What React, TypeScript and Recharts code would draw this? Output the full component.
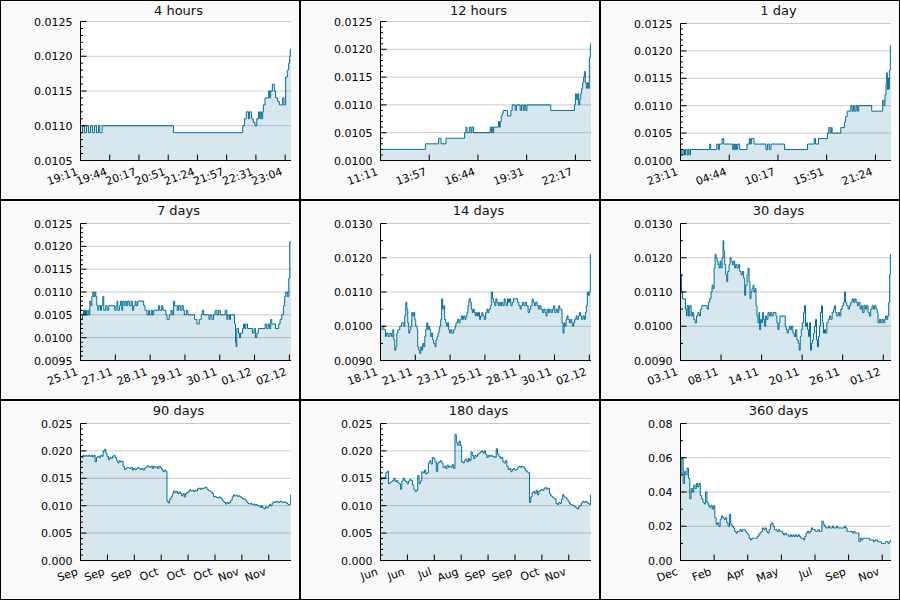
import React from 'react';
import { AreaChart, Area, XAxis, YAxis, CartesianGrid, ReferenceLine } from 'recharts';

const FONT = '"DejaVu Sans", Verdana, sans-serif';
type Pt = [number, number];

// ---------- data (time in natural units, value in price) ----------
const hours4: Pt[] = [
  [0, 0.0109], [2.3, 0.011], [4.5, 0.0109], [6.8, 0.011], [9.1, 0.0109], [11.4, 0.011], [13.6, 0.0109], [15.9, 0.011],
  [18.2, 0.0109], [20.5, 0.011], [22, 0.0109], [24.6, 0.011], [106, 0.0109], [185, 0.011], [187, 0.0111], [189, 0.0112],
  [191.5, 0.0111], [192.6, 0.0112], [194.9, 0.0111], [197, 0.01105], [199, 0.011], [201, 0.0111], [203, 0.0112],
  [204.3, 0.0111], [205.5, 0.0112], [206.6, 0.0111], [207.7, 0.0112], [208.5, 0.0113], [210.4, 0.0114], [214.6, 0.0115],
  [215.7, 0.0114], [216.8, 0.0115], [218.7, 0.0116], [221, 0.0115], [222.5, 0.0114], [224.8, 0.01135], [226.7, 0.0113],
  [230.5, 0.0114], [232, 0.0113], [233.9, 0.0117], [235.8, 0.0118], [237.3, 0.0119], [238.5, 0.012], [239.2, 0.0121], [240, 0.0121],
];
const hours4Ticks = [0, 33.33, 66.67, 100, 133.33, 166.67, 200, 233.33];
const hours4Labels = ['19:11', '19:44', '20:17', '20:51', '21:24', '21:57', '22:31', '23:04'];

const hours12: Pt[] = [
  [0, 0.0102], [153.5, 0.0103], [199, 0.0104], [207, 0.0103], [224, 0.0104], [287.8, 0.0105], [292.3, 0.0106], [295.7, 0.0105],
  [303.7, 0.0106], [309.4, 0.0105], [312.8, 0.0106], [318.5, 0.0105], [375.3, 0.0106], [378.8, 0.0105], [381, 0.0106],
  [384.4, 0.0105], [386.7, 0.0106], [403.8, 0.0107], [407.2, 0.0106], [409.5, 0.0107], [412.9, 0.0108], [416.3, 0.01085],
  [419.7, 0.0109], [434.5, 0.0108], [445.9, 0.0109], [450.4, 0.011], [460.6, 0.0109], [465, 0.011], [477.7, 0.0109],
  [482.3, 0.011], [488, 0.0109], [492, 0.011], [497, 0.0109], [501, 0.011], [582.3, 0.0109], [663.1, 0.011], [666.5, 0.0112],
  [670, 0.0111], [674.4, 0.0112], [677.8, 0.011], [681.3, 0.0111], [684.7, 0.0112], [688.1, 0.0113], [691.5, 0.0114],
  [695, 0.0115], [697.2, 0.0116], [700.6, 0.0114], [704, 0.0113], [707.5, 0.0114], [710.9, 0.0113], [714.3, 0.01186],
  [717.7, 0.0121], [720, 0.0121],
];
const hours12Ticks = [0, 166.67, 333.33, 500, 666.67];
const hours12Labels = ['11:11', '13:57', '16:44', '19:31', '22:17'];

const day1: Pt[] = [
  [0, 0.0102], [9.1, 0.0101], [18.2, 0.0102], [27.3, 0.0101], [34.1, 0.0102], [45.5, 0.0101], [52.3, 0.0102], [59.2, 0.0101],
  [68.3, 0.0102], [200.2, 0.0103], [207, 0.0102], [248, 0.0103], [259.4, 0.0102], [266.2, 0.0103], [284.4, 0.0104],
  [295.8, 0.0103], [357.2, 0.0102], [364, 0.0103], [370.8, 0.0102], [377.7, 0.0103], [382.2, 0.0102], [391.3, 0.0103],
  [405, 0.0102], [455, 0.0103], [471, 0.0104], [477.8, 0.0103], [484.6, 0.0104], [502.8, 0.0103], [584.7, 0.0102],
  [596, 0.0103], [607.4, 0.0102], [618.8, 0.0103], [712, 0.0102], [869, 0.0103], [914.6, 0.0104], [923.7, 0.0103],
  [944, 0.0104], [1005.6, 0.0105], [1014.7, 0.0106], [1023.8, 0.0105], [1030.6, 0.0106], [1037.4, 0.0105], [1096.6, 0.0106],
  [1121.6, 0.0107], [1128.4, 0.0108], [1139.8, 0.0109], [1164.8, 0.011], [1173.9, 0.0109], [1183, 0.011], [1192, 0.0109],
  [1201, 0.011], [1210, 0.0109], [1219.4, 0.011], [1308, 0.0109], [1383, 0.0111], [1392.3, 0.011], [1399, 0.0112],
  [1406, 0.0114], [1410.5, 0.0116], [1415, 0.0113], [1419.6, 0.0115], [1424, 0.0113], [1428.7, 0.01165], [1435.5, 0.0121],
  [1440, 0.0121],
];
const day1Ticks = [0, 333.33, 666.67, 1000, 1333.33];
const day1Labels = ['23:11', '04:44', '10:17', '15:51', '21:24'];

const days7: Pt[] = [
  [0, 0.0104], [1.6, 0.0105], [2.4, 0.0106], [3.2, 0.0105], [4, 0.0106], [4.8, 0.0105], [5.9, 0.0106], [6.7, 0.0105],
  [7.5, 0.0108], [8.3, 0.0107], [9.1, 0.0109], [9.9, 0.011], [10.7, 0.0109], [11.5, 0.011], [12.3, 0.0109], [13.1, 0.0107],
  [13.9, 0.0106], [14.7, 0.0107], [16.1, 0.0106], [16.9, 0.0107], [17.9, 0.0109], [18.7, 0.0106], [20.3, 0.0107],
  [21.4, 0.0106], [22.7, 0.0107], [27.6, 0.0106], [28.6, 0.0107], [29.4, 0.0108], [30, 0.0106], [31.3, 0.0107],
  [32.1, 0.0108], [33.2, 0.0106], [34, 0.0108], [35, 0.0107], [35.8, 0.0108], [36.9, 0.0107], [38, 0.0108], [39.3, 0.0107],
  [40.7, 0.0108], [41.7, 0.0106], [42.8, 0.0107], [43.9, 0.0108], [44.7, 0.0107], [46, 0.0108], [50.8, 0.0107],
  [51.9, 0.0106], [53.5, 0.0105], [54.8, 0.0106], [55.6, 0.0105], [57, 0.0106], [57.8, 0.0105], [58.9, 0.0106],
  [62.9, 0.0107], [63.7, 0.0106], [65.3, 0.0107], [66.3, 0.0106], [68.7, 0.0105], [69.6, 0.0104], [71.4, 0.0105],
  [72.8, 0.0106], [73.8, 0.0105], [74.9, 0.0108], [75.7, 0.0107], [77.8, 0.0106], [78.9, 0.0107], [80.3, 0.0106],
  [81.6, 0.0107], [82.7, 0.0106], [83.5, 0.0105], [85.1, 0.0106], [86.4, 0.0105], [91.8, 0.0104], [93.6, 0.0103],
  [95.5, 0.0104], [97.1, 0.0105], [97.9, 0.0106], [99, 0.0105], [103.3, 0.0104], [104.3, 0.0105], [105.7, 0.0104],
  [107, 0.0105], [108.3, 0.0106], [109.7, 0.0105], [111, 0.0106], [112.4, 0.0105], [116.4, 0.0106], [117.7, 0.0104],
  [118.5, 0.0105], [119.8, 0.0104], [120.6, 0.0105], [123.9, 0.0103], [124.7, 0.0099], [125.2, 0.0098], [125.7, 0.0102],
  [127.1, 0.0101], [127.9, 0.01], [128.7, 0.0101], [130.3, 0.0102], [131.1, 0.0103], [131.9, 0.0102], [132.9, 0.0103],
  [134.3, 0.0102], [138.3, 0.0101], [139.6, 0.0102], [140.7, 0.01], [141.8, 0.0101], [143.1, 0.0102], [148.5, 0.0103],
  [149.8, 0.0102], [150.9, 0.0103], [151.9, 0.0102], [153, 0.0104], [153.8, 0.0103], [156.8, 0.0102], [159.4, 0.0103],
  [160.5, 0.0104], [161.8, 0.0105], [163.2, 0.0107], [164.2, 0.0109], [165, 0.011], [166.4, 0.0109], [167.5, 0.0113],
  [168.3, 0.0121], [169.3, 0.0121],
];
const days7Ticks = [0, 28, 56, 84, 112, 140, 168];
const days7Labels = ['25.11', '27.11', '28.11', '29.11', '30.11', '01.12', '02.12'];

const days14: Pt[] = [
  [0, 0.0099], [2.7, 0.01], [5.4, 0.0099], [8, 0.0097], [9.6, 0.0098], [12.3, 0.0097], [15, 0.0098], [17.7, 0.0097],
  [19.8, 0.0099], [21.4, 0.0096], [23, 0.0093], [24.6, 0.0094], [26.2, 0.0098], [27.8, 0.0099], [31, 0.01], [33.7, 0.0101],
  [37.5, 0.01], [39, 0.0103], [40.7, 0.0107], [42.3, 0.0105], [43.9, 0.0101], [45.5, 0.0098], [47.1, 0.0099], [48.7, 0.01],
  [50.3, 0.0104], [51.9, 0.0103], [53.5, 0.0104], [55.1, 0.0102], [56.7, 0.01], [58.9, 0.0099], [59.9, 0.0094],
  [61.5, 0.0093], [63.1, 0.0092], [64.7, 0.0094], [66.3, 0.0093], [67.9, 0.0095], [69.6, 0.0094], [71.2, 0.0097],
  [72.8, 0.0099], [74.4, 0.0101], [76, 0.0099], [77.6, 0.01], [79.2, 0.0099], [80.8, 0.0097], [82.4, 0.0098], [84, 0.0096],
  [85.6, 0.0095], [87.7, 0.0094], [89.3, 0.0096], [91, 0.0097], [92.6, 0.0098], [94.2, 0.0099], [95.2, 0.01],
  [96.8, 0.0102], [98.4, 0.0108], [100, 0.0105], [101.7, 0.0106], [103.3, 0.0102], [104.9, 0.0101], [106.5, 0.01],
  [108.1, 0.0101], [109.7, 0.0099], [111.3, 0.0098], [112.9, 0.0099], [115, 0.0098], [117.7, 0.0099], [119.8, 0.01],
  [121.4, 0.0101], [124.1, 0.0102], [126.3, 0.0101], [127.9, 0.0102], [130, 0.0103], [132.1, 0.0102], [133.8, 0.0103],
  [135.9, 0.0102], [137.5, 0.0103], [139.1, 0.0104], [140.7, 0.0106], [142.3, 0.0108], [144.5, 0.0107], [146.1, 0.0105],
  [147.7, 0.0104], [149.3, 0.0105], [150.9, 0.0104], [152.5, 0.0103], [154.1, 0.0104], [156.2, 0.0103], [157.8, 0.0104],
  [159.4, 0.0102], [161, 0.0103], [163.2, 0.0104], [164.8, 0.0103], [166.9, 0.0102], [169.1, 0.0104], [171.2, 0.0105],
  [172.8, 0.0104], [174.4, 0.0105], [176.6, 0.0106], [178.2, 0.011], [180.3, 0.0108], [181.9, 0.0107], [184, 0.0106],
  [185.6, 0.0108], [187.3, 0.0107], [189.4, 0.0106], [191, 0.0107], [192.6, 0.0106], [194.7, 0.0107], [196.9, 0.0106],
  [199, 0.0108], [200.6, 0.0107], [202.2, 0.0106], [204.4, 0.0108], [206, 0.0107], [207.6, 0.0108], [209.7, 0.0106],
  [211.9, 0.0107], [214, 0.0108], [220.4, 0.0107], [222.6, 0.0106], [224.7, 0.0105], [226.3, 0.0106], [228.4, 0.0107],
  [230.6, 0.0106], [232.7, 0.0107], [234.9, 0.0106], [237.5, 0.0104], [239.7, 0.0105], [241.8, 0.0106], [244, 0.0108],
  [245.6, 0.0107], [247.7, 0.0106], [249.8, 0.0107], [252, 0.0106], [254.1, 0.0105], [256.3, 0.0106], [258.4, 0.0105],
  [260.5, 0.0104], [262.7, 0.0105], [264.8, 0.0104], [266.4, 0.0103], [268, 0.0105], [270.2, 0.0104], [272.3, 0.0105],
  [274.5, 0.0104], [276.6, 0.0105], [278.7, 0.0106], [280.3, 0.0104], [282.5, 0.0105], [284.6, 0.0104], [286.8, 0.0106],
  [288.4, 0.0105], [292.1, 0.0101], [293.7, 0.0098], [295.3, 0.0101], [296.9, 0.01], [298.5, 0.0102], [300.1, 0.0103],
  [301.7, 0.0102], [303.9, 0.0101], [306, 0.0102], [307.6, 0.0101], [309.2, 0.01], [310.8, 0.0101], [312.4, 0.0102],
  [314.6, 0.0103], [316.2, 0.0102], [318.3, 0.0103], [319.9, 0.0104], [322.1, 0.0103], [323.7, 0.0102], [325.8, 0.0103],
  [328, 0.0102], [329.6, 0.0104], [331.2, 0.0106], [332.8, 0.011], [334.4, 0.0109], [336, 0.011], [337.6, 0.0121],
  [338.7, 0.0121],
];
const days14Ticks = [0, 56, 112, 168, 224, 280, 336];
const days14Labels = ['18.11', '21.11', '23.11', '25.11', '28.11', '30.11', '02.12'];

const days30: Pt[] = [
  [0, 0.0115], [3.4, 0.011], [6.8, 0.0108], [17.1, 0.0105], [20.5, 0.0103], [22.7, 0.0106], [27.3, 0.0103], [31.8, 0.0106],
  [36.4, 0.0103], [40.9, 0.0104], [45.5, 0.0102], [50, 0.0101], [54.6, 0.0103], [59.1, 0.0104], [63.7, 0.0103],
  [68.2, 0.0105], [72.8, 0.0106], [91, 0.0105], [95.5, 0.0107], [100, 0.0108], [104.6, 0.011], [108, 0.0112],
  [111.5, 0.0111], [114.9, 0.0117], [118.3, 0.0121], [121.7, 0.012], [125.1, 0.0119], [128.5, 0.0118], [131.9, 0.0117],
  [135.4, 0.0119], [138.8, 0.0117], [142.2, 0.012], [145.6, 0.0125], [147.9, 0.0122], [151.3, 0.0118], [154.7, 0.0115],
  [158.1, 0.0113], [161.5, 0.0116], [166, 0.0118], [169.5, 0.012], [172.9, 0.0119], [177.4, 0.0118], [182, 0.0119],
  [185.4, 0.0117], [188.8, 0.0118], [193.4, 0.0117], [197.9, 0.0118], [202.5, 0.0116], [207, 0.0115], [211.6, 0.0116],
  [216.1, 0.0114], [219.5, 0.0109], [222.9, 0.0112], [227.5, 0.0115], [230.9, 0.0117], [234.3, 0.0113], [237.7, 0.0108],
  [241.1, 0.011], [244.5, 0.0111], [248, 0.0112], [251.4, 0.011], [254.8, 0.0111], [258.2, 0.0106], [261.6, 0.0103],
  [265, 0.0101], [268.4, 0.0104], [270.7, 0.0099], [274.1, 0.0102], [277.5, 0.0101], [280.9, 0.0104], [284.4, 0.0102],
  [287.8, 0.01], [291.2, 0.0103], [294.6, 0.0102], [299.1, 0.0104], [303.7, 0.0103], [308.2, 0.0104], [312.8, 0.0103],
  [317.3, 0.0104], [326.4, 0.0103], [329.8, 0.0101], [333.3, 0.0099], [336.7, 0.0101], [340.1, 0.0103], [358.3, 0.01],
  [361.7, 0.0099], [365.1, 0.0098], [368.5, 0.0099], [371.9, 0.01], [375.3, 0.0099], [379.9, 0.01], [384.4, 0.0098],
  [389, 0.0097], [393.5, 0.0099], [398.1, 0.0096], [402.6, 0.0095], [406, 0.0093], [409.5, 0.0097], [412.9, 0.0099],
  [416.3, 0.0101], [420.8, 0.0104], [424.3, 0.0106], [427.7, 0.01], [431.1, 0.0101], [434.5, 0.0099], [437.9, 0.0097],
  [441.3, 0.0101], [444.7, 0.0093], [448.1, 0.0095], [451.5, 0.0096], [455, 0.0098], [458.4, 0.01], [461.8, 0.0102],
  [465.2, 0.0096], [468.6, 0.0094], [472, 0.0097], [475.4, 0.01], [478.8, 0.0104], [482.3, 0.0106], [485.7, 0.0101],
  [489.1, 0.0098], [492.5, 0.0099], [495.9, 0.0098], [500.5, 0.0101], [505, 0.0102], [509.6, 0.0103], [514.1, 0.0102],
  [518.7, 0.0104], [523.2, 0.0105], [526.6, 0.0106], [530, 0.0104], [534.6, 0.0103], [539.1, 0.0104], [543.7, 0.0103],
  [548.2, 0.0105], [552.8, 0.0106], [557.3, 0.0107], [560.7, 0.011], [564.2, 0.0107], [568.7, 0.0106], [573.3, 0.0105],
  [577.8, 0.0106], [582.3, 0.0107], [586.9, 0.0108], [591.4, 0.0107], [596, 0.0108], [600.5, 0.0107], [605.1, 0.0106],
  [609.6, 0.0107], [614.2, 0.0105], [618.7, 0.0106], [623.3, 0.0104], [627.8, 0.0106], [632.4, 0.0105], [636.9, 0.0106],
  [641.5, 0.0104], [646, 0.0103], [650.6, 0.0105], [655.1, 0.0106], [659.7, 0.0105], [664.2, 0.0106], [668.8, 0.0105],
  [673.3, 0.0104], [675.6, 0.0101], [680.2, 0.0102], [684.7, 0.0101], [689.3, 0.0102], [693.8, 0.0101], [698.4, 0.0102],
  [701.8, 0.0103], [705.2, 0.0102], [708.6, 0.0103], [712, 0.0107], [715.4, 0.0115], [717.7, 0.0121], [720, 0.0121],
];
const days30Ticks = [0, 138.7, 277.4, 416.1, 554.8, 693.5];
const days30Labels = ['03.11', '08.11', '14.11', '20.11', '26.11', '01.12'];

const days90Values = [
  0.019, 0.0188, 0.0192, 0.019, 0.0192, 0.019, 0.0192, 0.019, 0.0192, 0.0189, 0.0192, 0.018, 0.0188, 0.019, 0.0188, 0.0192,
  0.019, 0.02, 0.0203, 0.0196, 0.019, 0.0184, 0.0188, 0.0186, 0.019, 0.0192, 0.0188, 0.0183, 0.0178, 0.0182, 0.018, 0.0181,
  0.0172, 0.0166, 0.0168, 0.017, 0.0169, 0.0168, 0.017, 0.0165, 0.0168, 0.0166, 0.0168, 0.017, 0.0168, 0.0166, 0.0168,
  0.0165, 0.0168, 0.017, 0.0173, 0.0172, 0.017, 0.0172, 0.0168, 0.0172, 0.017, 0.0171, 0.0168, 0.0172, 0.017, 0.0166,
  0.0162, 0.0165, 0.0163, 0.0108, 0.0105, 0.0112, 0.0116, 0.0122, 0.0127, 0.0124, 0.0126, 0.0122, 0.0125, 0.0122, 0.0118,
  0.0122, 0.0116, 0.0122, 0.0124, 0.0126, 0.0129, 0.0127, 0.0128, 0.0126, 0.0128, 0.0127, 0.0131, 0.0132, 0.013, 0.0132,
  0.0131, 0.0133, 0.0134, 0.013, 0.0128, 0.0127, 0.0125, 0.0122, 0.0116, 0.0117, 0.0115, 0.0114, 0.0116, 0.0114, 0.0112,
  0.0108, 0.0106, 0.0103, 0.0106, 0.0104, 0.0106, 0.011, 0.0116, 0.012, 0.0118, 0.0119, 0.0117, 0.0118, 0.0116, 0.0114,
  0.0112, 0.0112, 0.011, 0.0106, 0.0104, 0.0103, 0.0104, 0.0102, 0.0103, 0.0101, 0.0102, 0.01, 0.01, 0.0097, 0.01, 0.0096,
  0.0094, 0.0098, 0.0096, 0.0099, 0.0102, 0.01, 0.0105, 0.0107, 0.0106, 0.0108, 0.0107, 0.0106, 0.0108, 0.0107, 0.0106,
  0.0107, 0.0106, 0.0104, 0.0102, 0.0102, 0.012,
];
const days90Ticks = [0, 11.5, 23, 34.5, 46, 57.5, 69, 80.5];
const days90Labels = ['Sep', 'Sep', 'Sep', 'Oct', 'Oct', 'Oct', 'Nov', 'Nov'];

const days180Values = [
  0.0148, 0.0152, 0.015, 0.0152, 0.016, 0.0163, 0.014, 0.0142, 0.0144, 0.0146, 0.015, 0.0144, 0.0146, 0.0142, 0.014, 0.013,
  0.0145, 0.015, 0.0146, 0.0144, 0.014, 0.0145, 0.0148, 0.0146, 0.0138, 0.013, 0.0126, 0.0128, 0.0155, 0.014, 0.0145,
  0.0162, 0.016, 0.0165, 0.0158, 0.016, 0.0178, 0.0182, 0.0176, 0.0188, 0.0186, 0.018, 0.0162, 0.0178, 0.018, 0.0182,
  0.0178, 0.017, 0.0172, 0.0168, 0.0174, 0.017, 0.0172, 0.017, 0.0175, 0.0168, 0.023, 0.0215, 0.021, 0.0218, 0.021, 0.018,
  0.0178, 0.0182, 0.0185, 0.018, 0.0186, 0.0182, 0.0198, 0.0192, 0.0186, 0.0192, 0.019, 0.0194, 0.0196, 0.0198, 0.02,
  0.0196, 0.02, 0.0194, 0.0188, 0.0192, 0.019, 0.0192, 0.0189, 0.019, 0.0188, 0.0204, 0.0194, 0.019, 0.0186, 0.0188,
  0.018, 0.0178, 0.0182, 0.0172, 0.0166, 0.0168, 0.0162, 0.0166, 0.0168, 0.0165, 0.0166, 0.017, 0.0172, 0.017, 0.0172,
  0.0171, 0.0168, 0.0164, 0.0162, 0.016, 0.0106, 0.0116, 0.0124, 0.0126, 0.0122, 0.0128, 0.012, 0.0126, 0.0128, 0.013,
  0.0128, 0.0132, 0.0133, 0.013, 0.0132, 0.0122, 0.0118, 0.0116, 0.0114, 0.0112, 0.0104, 0.0102, 0.0106, 0.0104, 0.0112,
  0.012, 0.0116, 0.0115, 0.0112, 0.0108, 0.0104, 0.0102, 0.0101, 0.01, 0.0098, 0.0096, 0.0094, 0.0098, 0.01, 0.0105,
  0.0108, 0.0106, 0.0108, 0.0106, 0.0104, 0.0102, 0.012,
];
const days180Ticks = [0, 23, 46, 69, 92, 115, 138, 161];
const days180Labels = ['Jun', 'Jun', 'Jul', 'Aug', 'Sep', 'Sep', 'Oct', 'Nov'];

const days360Values = [
  0.05, 0.06, 0.045, 0.052, 0.05, 0.054, 0.048, 0.036, 0.042, 0.04, 0.044, 0.042, 0.045, 0.043, 0.045, 0.038, 0.036, 0.034,
  0.033, 0.04, 0.034, 0.032, 0.031, 0.032, 0.03, 0.032, 0.025, 0.021, 0.022, 0.02, 0.024, 0.026, 0.025, 0.024, 0.025,
  0.022, 0.02, 0.027, 0.021, 0.02, 0.019, 0.017, 0.016, 0.017, 0.017, 0.018, 0.017, 0.018, 0.018, 0.017, 0.016, 0.015,
  0.013, 0.012, 0.013, 0.013, 0.013, 0.013, 0.014, 0.015, 0.016, 0.017, 0.019, 0.018, 0.019, 0.017, 0.016, 0.018, 0.021,
  0.022, 0.02, 0.018, 0.018, 0.017, 0.018, 0.017, 0.017, 0.016, 0.015, 0.016, 0.015, 0.015, 0.014, 0.015, 0.014, 0.015,
  0.014, 0.015, 0.014, 0.015, 0.014, 0.013, 0.013, 0.012, 0.014, 0.016, 0.017, 0.016, 0.017, 0.019, 0.018, 0.018, 0.017,
  0.017, 0.018, 0.017, 0.017, 0.023, 0.021, 0.02, 0.019, 0.019, 0.02, 0.019, 0.019, 0.02, 0.019, 0.019, 0.02, 0.019,
  0.019, 0.019, 0.019, 0.019, 0.02, 0.019, 0.017, 0.017, 0.017, 0.017, 0.016, 0.017, 0.016, 0.016, 0.016, 0.011, 0.013,
  0.012, 0.013, 0.013, 0.013, 0.013, 0.013, 0.012, 0.012, 0.012, 0.011, 0.012, 0.012, 0.011, 0.011, 0.011, 0.01, 0.01,
  0.01, 0.011, 0.011, 0.01, 0.011, 0.012,
];
const days360Ticks = [0, 57.5, 115, 172.5, 230, 287.5, 345];
const days360Labels = ['Dec', 'Feb', 'Apr', 'May', 'Jul', 'Sep', 'Nov'];

// ---------- helpers ----------
function uniform(values: number[], end: number): Pt[] {
  const step = end / (values.length - 1);
  return values.map((v, i) => [i * step, v] as Pt);
}
function range(a: number, b: number, s: number): number[] {
  const n = Math.round((b - a) / s);
  const out: number[] = [];
  for (let i = 0; i <= n; i++) out.push(+(a + i * s).toFixed(6));
  return out;
}

interface Cfg {
  title: string;
  series: Pt[];
  xMax: number;
  xTicks: number[];
  xLabels: string[];
  yMin: number;
  yMax: number;
  yMajor: number;
  yMinor: number;
  digits: number;
  top: number;
}

const panels: Cfg[] = [
  { title: '4 hours', series: hours4, xMax: 240, xTicks: hours4Ticks, xLabels: hours4Labels, yMin: 0.0105, yMax: 0.0125, yMajor: 0.0005, yMinor: 0.0001, digits: 4, top: 20.5 },
  { title: '12 hours', series: hours12, xMax: 720, xTicks: hours12Ticks, xLabels: hours12Labels, yMin: 0.01, yMax: 0.0125, yMajor: 0.0005, yMinor: 0.0001, digits: 4, top: 20.5 },
  { title: '1 day', series: day1, xMax: 1440, xTicks: day1Ticks, xLabels: day1Labels, yMin: 0.01, yMax: 0.0125, yMajor: 0.0005, yMinor: 0.0001, digits: 4, top: 22.5 },
  { title: '7 days', series: days7, xMax: 169.3, xTicks: days7Ticks, xLabels: days7Labels, yMin: 0.0095, yMax: 0.0125, yMajor: 0.0005, yMinor: 0.0001, digits: 4, top: 22.5 },
  { title: '14 days', series: days14, xMax: 338.7, xTicks: days14Ticks, xLabels: days14Labels, yMin: 0.009, yMax: 0.013, yMajor: 0.001, yMinor: 0.0005, digits: 4, top: 22.5 },
  { title: '30 days', series: days30, xMax: 720, xTicks: days30Ticks, xLabels: days30Labels, yMin: 0.009, yMax: 0.013, yMajor: 0.001, yMinor: 0.0005, digits: 4, top: 22.5 },
  { title: '90 days', series: uniform(days90Values, 89.86), xMax: 90, xTicks: days90Ticks, xLabels: days90Labels, yMin: 0, yMax: 0.025, yMajor: 0.005, yMinor: 0.001, digits: 3, top: 22.5 },
  { title: '180 days', series: uniform(days180Values, 179.7), xMax: 180, xTicks: days180Ticks, xLabels: days180Labels, yMin: 0, yMax: 0.025, yMajor: 0.005, yMinor: 0.001, digits: 3, top: 22.5 },
  { title: '360 days', series: uniform(days360Values, 359.4), xMax: 360, xTicks: days360Ticks, xLabels: days360Labels, yMin: 0, yMax: 0.08, yMajor: 0.02, yMinor: 0.01, digits: 2, top: 22.5 },
];

const LINE = '#00709b';

function Panel({ cfg, left, top }: { cfg: Cfg; left: number; top: number }) {
  const data = cfg.series.map(([t, v]) => ({ t, v }));
  const majors = range(cfg.yMin, cfg.yMax, cfg.yMajor);
  const allTicks = range(cfg.yMin, cfg.yMax, cfg.yMinor);
  const isMajor = (v: number) => majors.some((m) => Math.abs(m - v) < 1e-9);

  const YTick = (p: any) => {
    const { x, y, payload } = p;
    const major = isMajor(payload.value);
    const ax = x + 8;
    return (
      <g>
        <line x1={ax} x2={ax + (major ? 6 : 2.5)} y1={y} y2={y} stroke="#000" strokeWidth={1} />
        {major && (
          <text x={x} y={y} dy={4} textAnchor="end" fontSize={11} fontFamily={FONT} fill="#000">
            {Number(payload.value).toFixed(cfg.digits)}
          </text>
        )}
      </g>
    );
  };

  const XTick = (p: any) => {
    const { x, y, payload } = p;
    const idx = cfg.xTicks.findIndex((t) => Math.abs(t - payload.value) < 1e-6);
    const tx = x - 2;
    const ty = y + 14;
    return (
      <g>
        <line x1={x} x2={x} y1={y} y2={y - 6} stroke="#000" strokeWidth={1} />
        <text x={tx} y={ty} transform={`rotate(-20 ${tx} ${ty})`} textAnchor="end" fontSize={11} fontFamily={FONT} fill="#000">
          {idx >= 0 ? cfg.xLabels[idx] : ''}
        </text>
      </g>
    );
  };

  return (
    <div
      style={{
        position: 'absolute',
        left,
        top,
        width: 300,
        height: 200,
        boxSizing: 'border-box',
        border: '1px solid #000',
        background: '#fafafa',
      }}
    >
      <div style={{ position: 'absolute', left: 0, top: 0 }}>
        <AreaChart width={298} height={198} data={data} margin={{ top: cfg.top, right: 8, bottom: 0, left: 0 }}>
          <CartesianGrid fill="#ffffff" fillOpacity={1} stroke="none" horizontal={false} vertical={false} />
          <XAxis
            type="number"
            dataKey="t"
            domain={[0, cfg.xMax]}
            ticks={cfg.xTicks}
            interval={0}
            allowDataOverflow
            height={38.5}
            tickSize={0}
            tickMargin={0}
            tickLine={false}
            axisLine={{ stroke: '#000', strokeWidth: 1 }}
            tick={XTick}
          />
          <YAxis
            type="number"
            domain={[cfg.yMin, cfg.yMax]}
            ticks={allTicks}
            interval={0}
            allowDataOverflow
            width={79.5}
            tickSize={0}
            tickMargin={8}
            tickLine={false}
            axisLine={{ stroke: '#000', strokeWidth: 1 }}
            tick={YTick}
          />
          <Area
            type="stepAfter"
            dataKey="v"
            stroke={LINE}
            strokeWidth={1}
            fill="#76afc6"
            fillOpacity={0.3}
            dot={false}
            activeDot={false}
            isAnimationActive={false}
          />
          {majors.slice(1).map((m) => (
            <ReferenceLine key={m} y={m} stroke="#000" strokeOpacity={0.2} strokeWidth={1} />
          ))}
        </AreaChart>
      </div>
      <svg width={298} height={24} style={{ position: 'absolute', left: 0, top: 0, pointerEvents: 'none' }}>
        <text x={177.5} y={14} textAnchor="middle" fontSize={13} fontFamily={FONT} fill="#111">
          {cfg.title}
        </text>
      </svg>
    </div>
  );
}

export default function App() {
  return (
    <div style={{ position: 'absolute', left: 0, top: 0, width: 900, height: 600, background: '#fff', fontFamily: FONT }}>
      {panels.map((cfg, i) => (
        <Panel key={cfg.title} cfg={cfg} left={(i % 3) * 300} top={Math.floor(i / 3) * 200} />
      ))}
    </div>
  );
}
